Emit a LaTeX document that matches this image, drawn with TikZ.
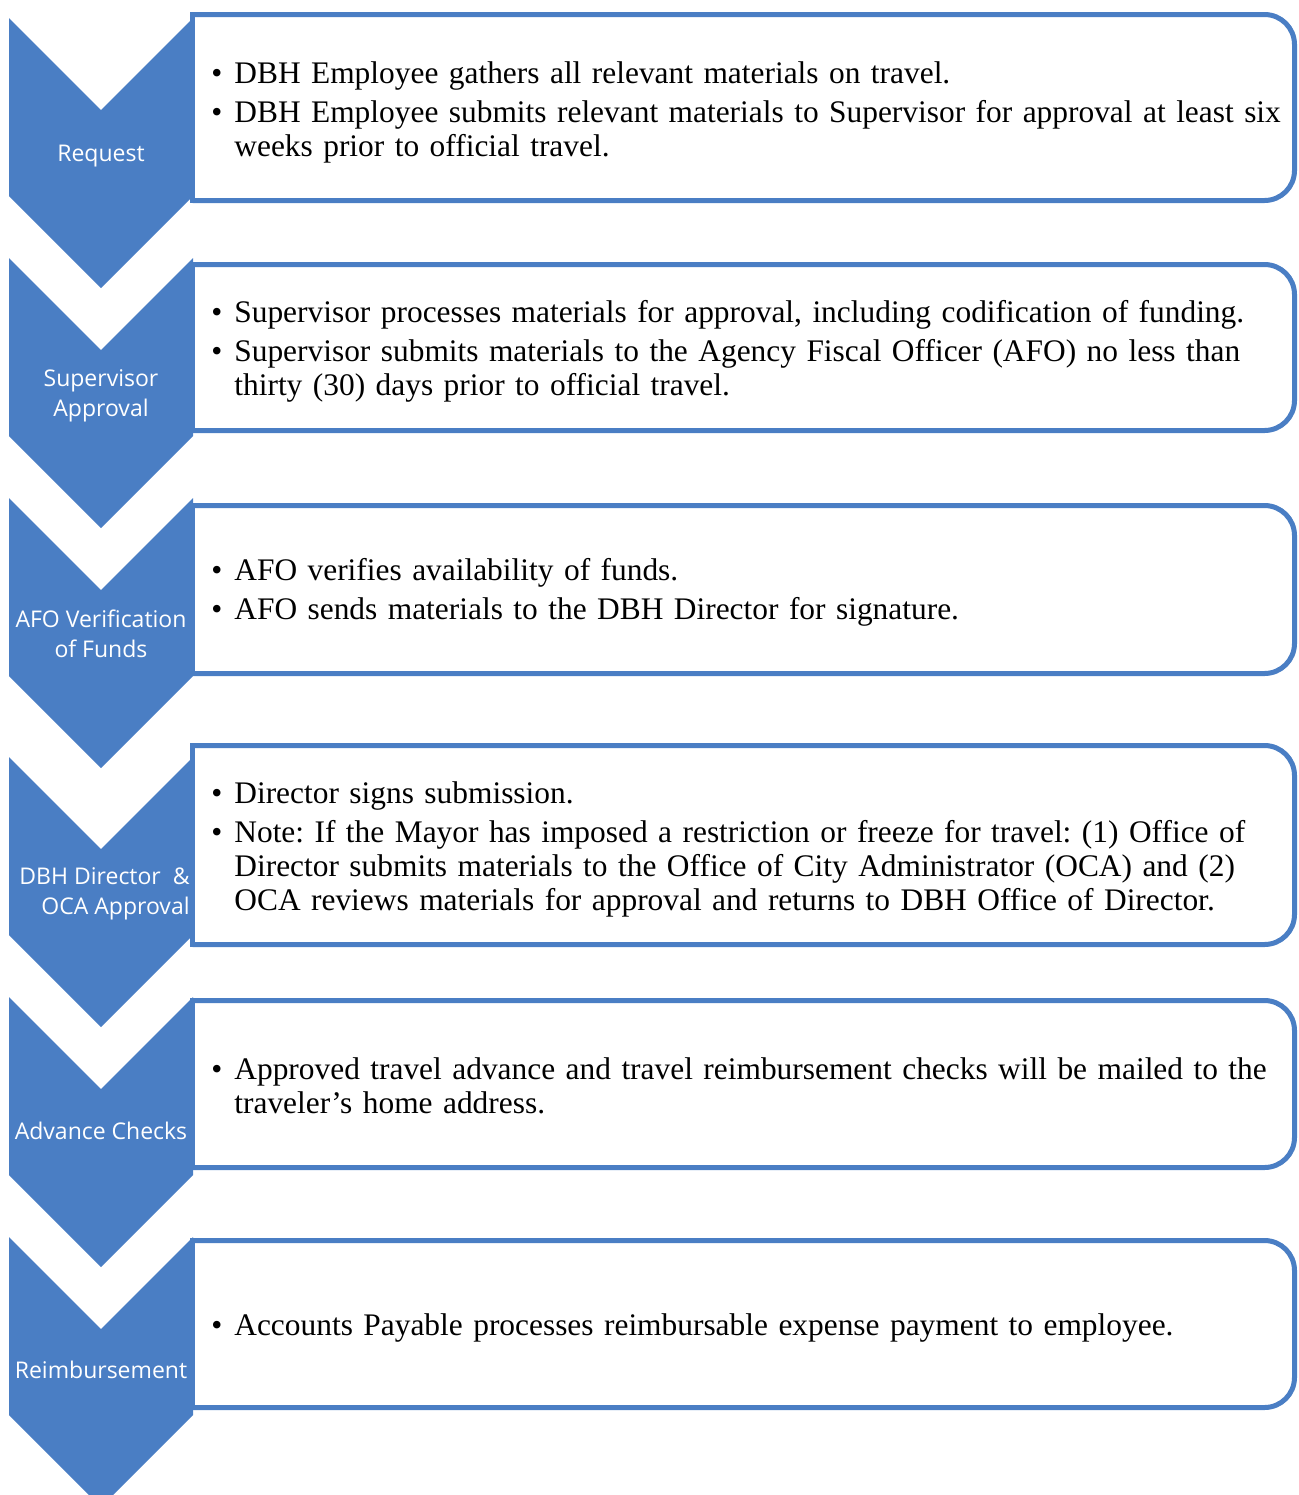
\documentclass[tikz,border=0pt]{standalone}
\usepackage{fontspec}
\setmainfont{Liberation Serif}
\newfontfamily\stagefont{Open Sans}
\usepackage{tikz}
\usetikzlibrary{positioning}
\definecolor{stepblue}{HTML}{4A7EC4}
\frenchspacing
\newcommand{\pitem}[1]{\par\hangindent=11.5pt\hangafter=1\noindent\makebox[11.5pt][l]{\textbullet}#1\par}
\newcommand{\chevron}[1]{\fill[chev] (9,#1) -- ++(92,92) -- ++(92,-92) -- ++(0,178) -- ++(-92,92) -- ++(-92,-92) -- cycle;}
\newcommand{\panelbox}[2]{%
  \fill[white] (192.5,#1) rectangle (1294.5,#2);
  \draw[panelline, rounded corners=15pt] (192.5,#1) -- (1294.5,#1) -- (1294.5,#2) -- (192.5,#2);
  \draw[panelline, line cap=rect] (192.5,#1) -- (192.5,#2);}

\begin{document}
\begin{tikzpicture}[x=0.5pt,y=-0.5pt]
		\tikzset{
			chev/.style={fill=stepblue},
			panelline/.style={draw=stepblue, line width=2.5pt},
			stage/.style={text=white, align=center, inner sep=0pt,
			font=\stagefont\fontsize{11.5}{15}\selectfont},
			notes/.style={anchor=west, text width=545pt, inner sep=0pt,
			font=\fontsize{15.7}{17}\selectfont\setlength{\parskip}{2.5pt}\frenchspacing}
		}
		\clip (0,0) rectangle (1298,1495);

		% chevrons
		\chevron{18}
		\chevron{258}
		\chevron{498}
		\chevron{757}
		\chevron{997}
		\chevron{1237}

		% boxes
		\panelbox{14.5}{200.5}
		\panelbox{264.5}{430.5}
		\panelbox{505.5}{673.5}
		\panelbox{745.5}{944.5}
		\panelbox{1000.5}{1167.5}
		\panelbox{1240.5}{1407.5}

		\node[stage] (request) at (101,156) {Request};
		\node[stage] (superv) at (101,396) {Supervisor\\Approval};
		\node[stage] (afo) at (101,634) {AFO Verification\\of Funds};
		\node[stage, align=right, anchor=east] (director) at (190,894) {DBH Director~ \&\\OCA Approval};
		\node[stage] (advance) at (101,1131) {Advance Checks};
		\node[stage] (reimb) at (101,1370) {Reimbursement};

		\node[notes] (reqnote) at (211,104) {%
			\pitem{DBH Employee gathers all relevant materials on travel.}
			\pitem{DBH Employee submits relevant materials to Supervisor for approval at least six\newline weeks prior to official travel.}};
		\node[notes] (supnote) at (211,343) {%
			\pitem{Supervisor processes materials for approval, including codification of funding.}
			\pitem{Supervisor submits materials to the Agency Fiscal Officer (AFO) no less than\newline thirty (30) days prior to official travel.}};
		\node[notes] (afonote) at (211,584) {%
			\pitem{AFO verifies availability of funds.}
			\pitem{AFO sends materials to the DBH Director for signature.}};
		\node[notes] (dirnote) at (211,841) {%
			\pitem{Director signs submission.}
			\pitem{Note: If the Mayor has imposed a restriction or freeze for travel: (1) Office of\newline Director submits materials to the Office of City Administrator (OCA) and (2)\newline OCA reviews materials for approval and returns to DBH Office of Director.}};
		\node[notes] (advnote) at (211,1077) {%
			\pitem{Approved travel advance and travel reimbursement checks will be mailed to the\newline traveler's home address.}};
		\node[notes] (reimbnote) at (211,1319) {%
			\pitem{Accounts Payable processes reimbursable expense payment to employee.}};
	\end{tikzpicture}
\end{document}
